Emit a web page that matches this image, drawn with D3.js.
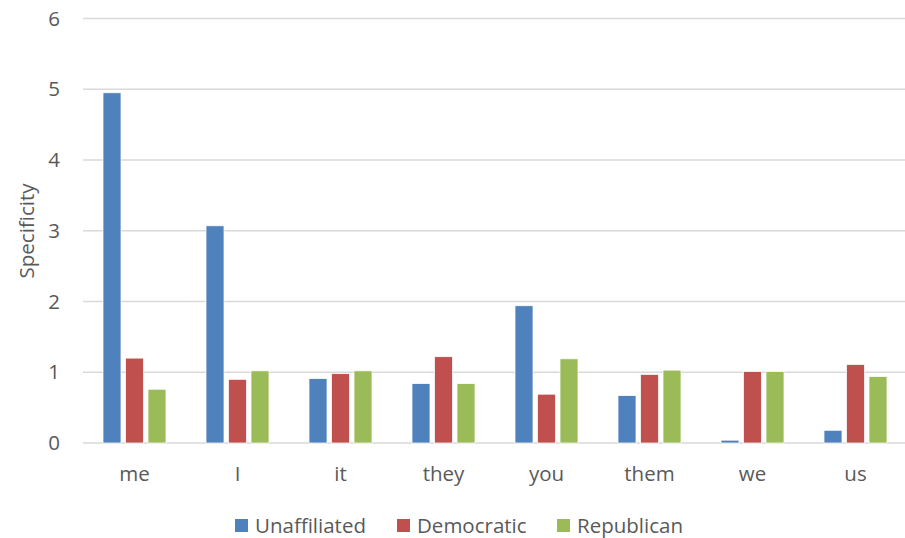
<!DOCTYPE html>
<html>
<head>
<meta charset="utf-8">
<script src="https://cdn.jsdelivr.net/npm/d3@7/dist/d3.min.js"></script>
<style>
  html, body { margin: 0; padding: 0; background: #fff; }
  svg text { font-family: "Open Sans", Lato, sans-serif; fill: #595959; }
</style>
</head>
<body>
<svg id="chart" width="905" height="538"></svg>
<script>
// Pronoun specificity by political affiliation
const categories = ["me", "I", "it", "they", "you", "them", "we", "us"];
const seriesNames = ["Unaffiliated", "Democratic", "Republican"];
const unaffiliated = [4.95, 3.07, 0.91, 0.84, 1.94, 0.67, 0.04, 0.18];
const democratic   = [1.20, 0.90, 0.98, 1.22, 0.69, 0.97, 1.01, 1.11];
const republican   = [0.76, 1.02, 1.02, 0.84, 1.19, 1.03, 1.01, 0.94];
const yTicks = [0, 1, 2, 3, 4, 5, 6];
const colors = ["#4F81BD", "#C0504D", "#9BBB59"];

const seriesValues = [unaffiliated, democratic, republican];
const rows = categories.map((c, i) => ({
  cat: c,
  vals: seriesNames.map((s, k) => ({ series: s, k, value: seriesValues[k][i] }))
}));

const svg = d3.select("#chart");
const plotLeft = 83, plotRight = 907, plotTop = 18.5, plotBottom = 443;
const fontSize = 20.5;

const x = d3.scaleBand().domain(categories).range([plotLeft, plotRight]).paddingInner(0).paddingOuter(0);
const x1 = d3.scaleBand().domain(seriesNames).range([20, x.bandwidth() - 20]).paddingInner(0.2).paddingOuter(0);
const y = d3.scaleLinear().domain([0, 6]).range([plotBottom, plotTop]);

// gridlines
svg.append("g").selectAll("line").data(yTicks).join("line")
  .attr("x1", plotLeft).attr("x2", 905)
  .attr("y1", d => y(d)).attr("y2", d => y(d))
  .attr("stroke", "#D9D9D9").attr("stroke-width", 1.5);

// y tick labels
svg.append("g").selectAll("text").data(yTicks).join("text")
  .attr("x", 60).attr("y", d => y(d)).attr("dy", "0.35em")
  .attr("text-anchor", "end").attr("font-size", fontSize)
  .text(d => d);

// bars
svg.append("g").selectAll("g").data(rows).join("g")
  .attr("transform", d => `translate(${x(d.cat)},0)`)
  .selectAll("rect").data(d => d.vals).join("rect")
  .attr("x", d => x1(d.series))
  .attr("width", x1.bandwidth())
  .attr("y", d => y(d.value))
  .attr("height", d => y(0) - y(d.value))
  .attr("fill", d => colors[d.k])
  .attr("stroke", "#fff").attr("stroke-width", 0.75);

// x category labels
svg.append("g").selectAll("text").data(categories).join("text")
  .attr("x", d => x(d) + x.bandwidth() / 2).attr("y", 474).attr("dy", "0.35em")
  .attr("text-anchor", "middle").attr("font-size", fontSize)
  .text(d => d);

// y axis title
svg.append("text")
  .attr("transform", "translate(27,231) rotate(-90)")
  .attr("text-anchor", "middle").attr("dy", "0.35em").attr("font-size", fontSize)
  .text("Specificity");

// legend
const legendX = [235, 397, 557];
const lg = svg.append("g").selectAll("g").data(seriesNames).join("g")
  .attr("transform", (d, i) => `translate(${legendX[i]},519)`);
lg.append("rect").attr("width", 13).attr("height", 13).attr("fill", (d, i) => colors[i]);
lg.append("text").attr("x", 20).attr("y", 7).attr("dy", "0.35em").attr("font-size", fontSize).text(d => d);
</script>
</body>
</html>
